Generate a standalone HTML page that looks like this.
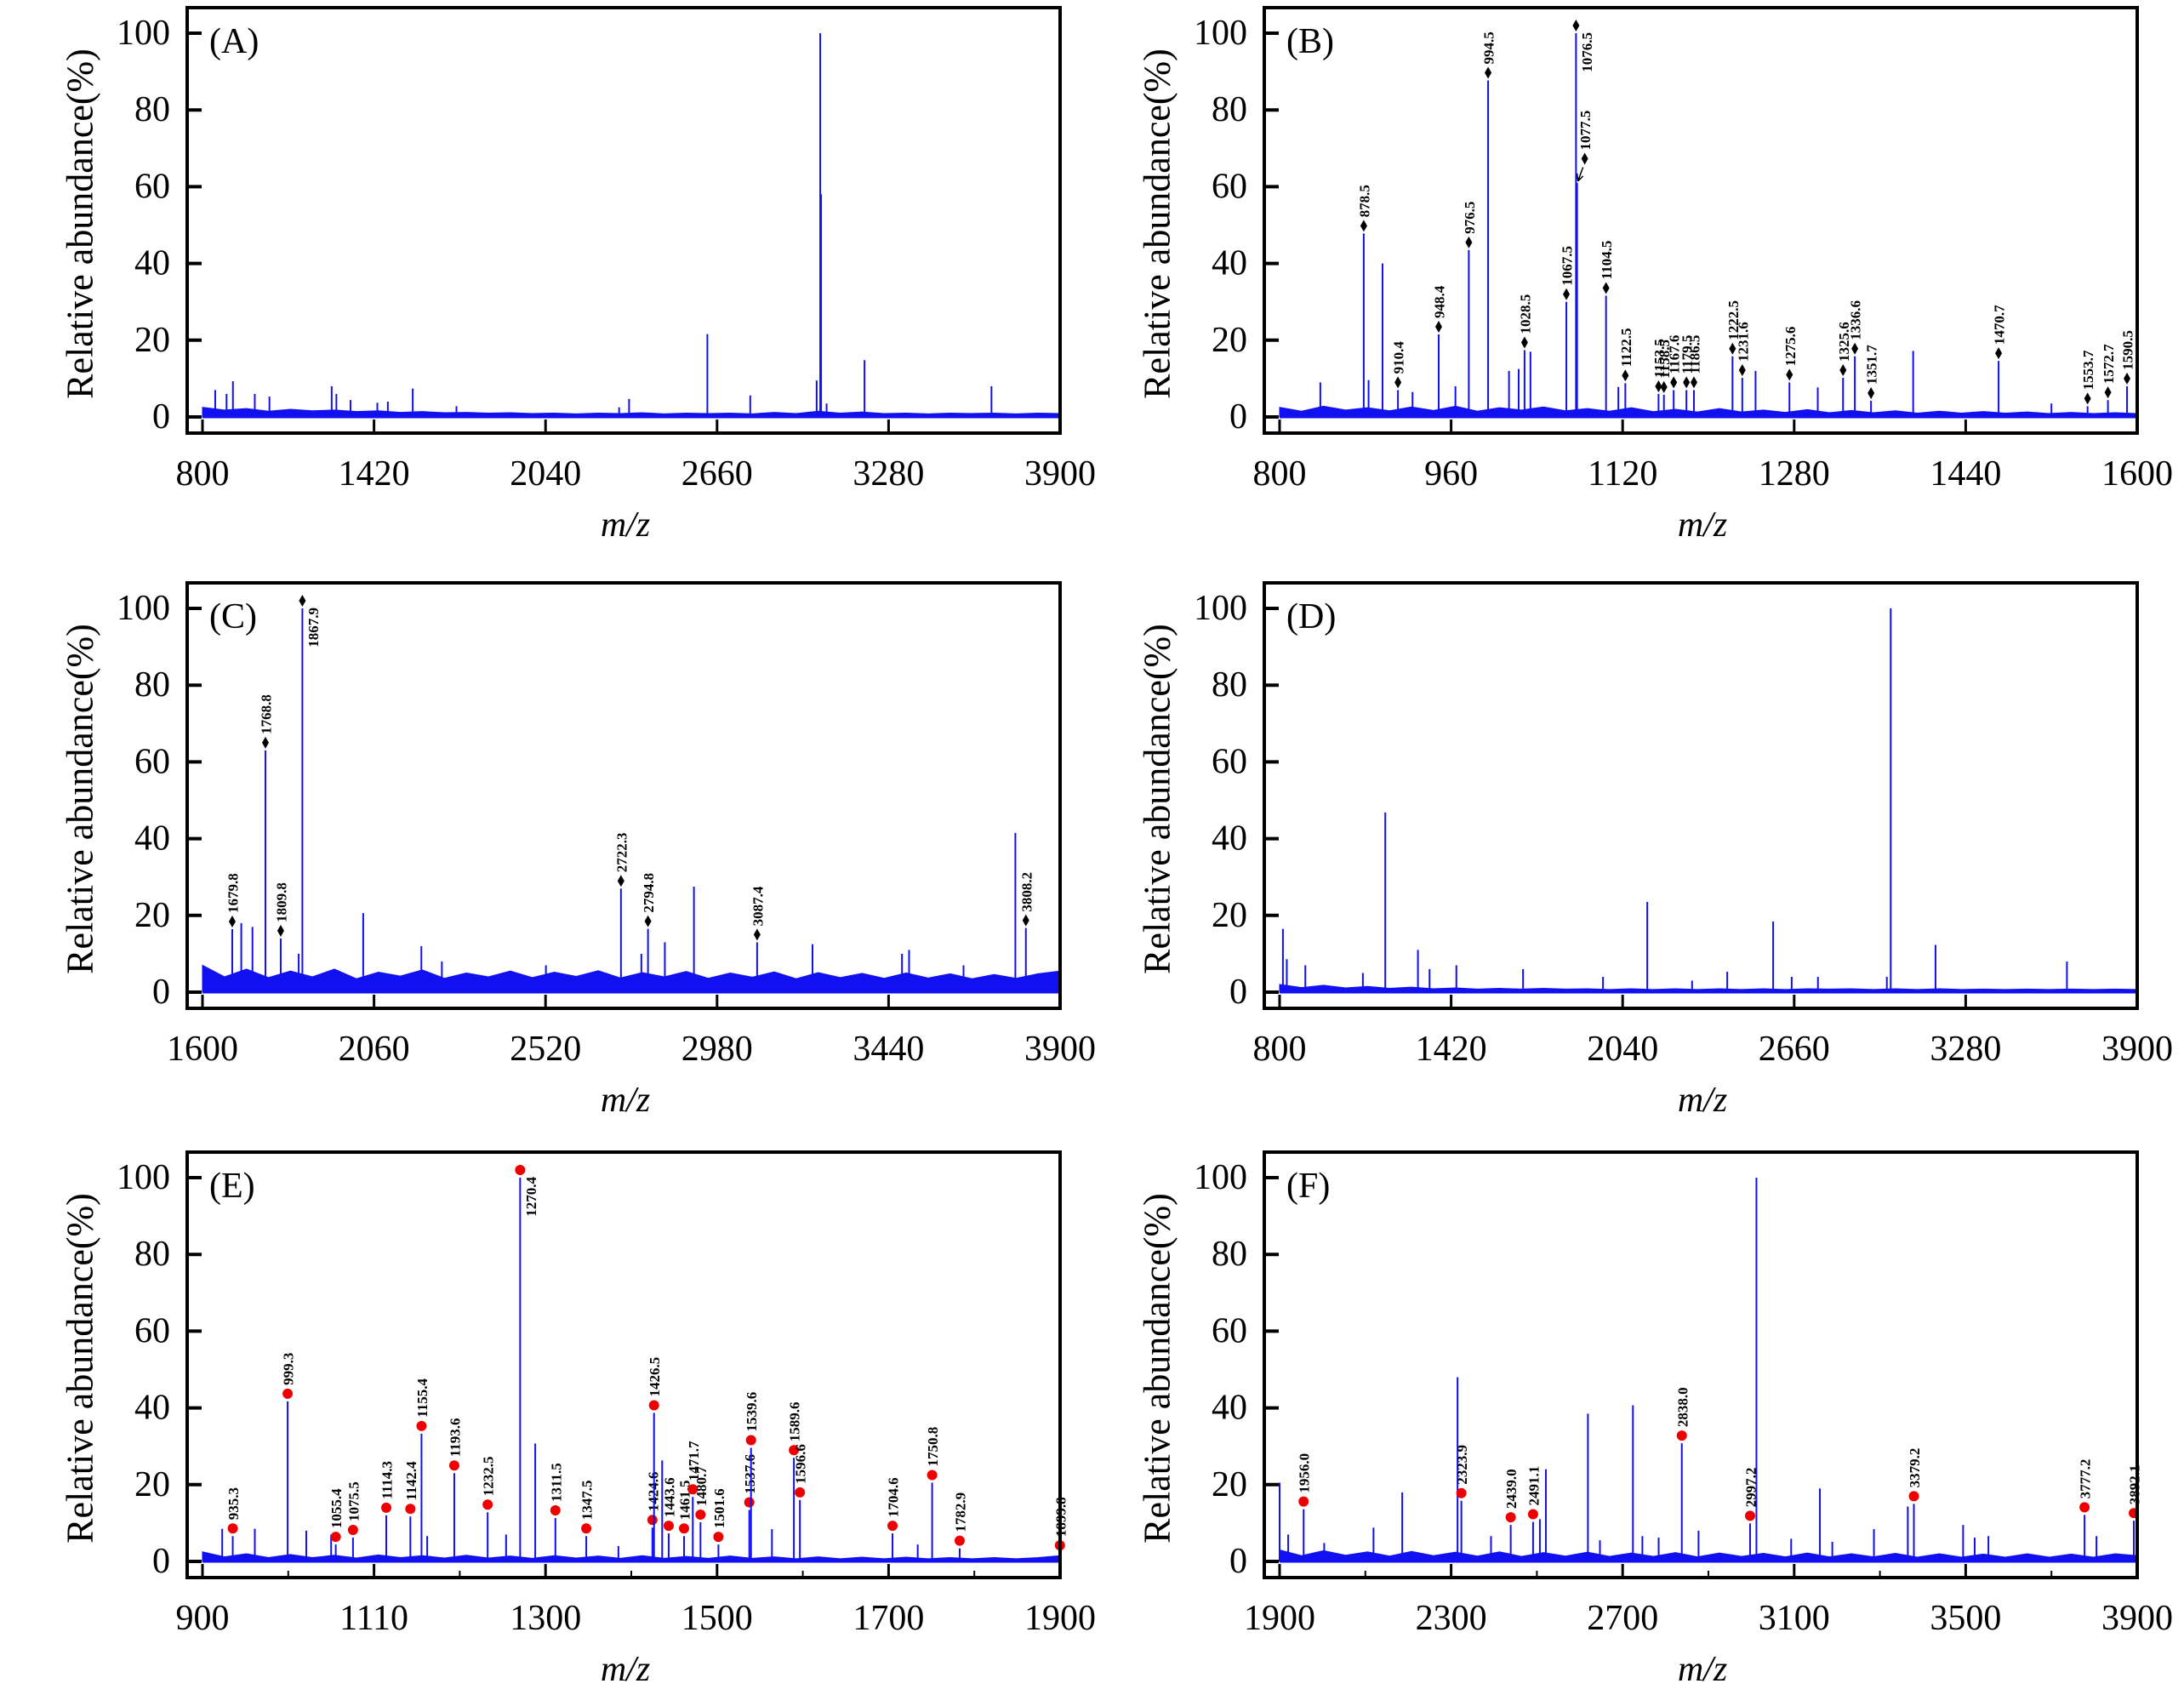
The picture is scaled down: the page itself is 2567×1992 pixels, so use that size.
<!DOCTYPE html>
<html><head><meta charset="utf-8"><title>Mass spectra panels A–F</title>
<style>
html,body{margin:0;padding:0;background:#fff;}
svg{display:block;}
svg text{font-family:"Liberation Serif","DejaVu Serif",serif;fill:#000;}
</style></head>
<body>
<svg id="fig" width="2567" height="1992" viewBox="0 0 2567 1992" xmlns="http://www.w3.org/2000/svg"></svg>
<script>
// ---------- Panel A ----------
const aTicks=[800,1420,2040,2660,3280,3900];
const aMz=[846,887,910,989,1042,1267,1284,1335,1432,1470,1560,1718,2306,2342,2625,2780,3020,3033,3036,3056,3193,3652];
const aInt=[7,6,9.3,6,5.3,8,6,4.4,3.7,4,7.4,2.8,2.5,4.7,21.6,5.6,9.5,100,58,3.5,14.8,8];
const aNoise=[2.5,1.8,2.2,1.5,2,1.6,1.8,1.4,1.6,1.2,1.4,1.1,1.2,1,1.1,0.9,1,0.8,1,0.9,1.1,0.8,1,0.9,1,0.8,1.2,0.9,1.5,1,1.3,0.9,1,0.8,1,0.9,1,0.8,1,0.9];
// ---------- Panel B ----------
const bTicks=[800,960,1120,1280,1440,1600];
const bMz=[838,883,896,924,964,1014,1023,1034,1116,1244,1302,1391,1520];
const bInt=[9,9.6,40,6.5,8,12,12.5,17,7.8,12,7.7,17.2,3.5];
const bLabMz=[878.5,910.4,948.4,976.5,994.5,1028.5,1067.5,1076.5,1104.5,1122.5,1153.5,1158.5,1167.6,1179.5,1186.5,1222.5,1231.6,1275.6,1325.6,1336.6,1351.7,1470.7,1553.7,1572.7,1590.5];
const bLabInt=[47.8,7,21.5,43.5,87.7,17.4,30,100,31.6,8.8,6,5.8,7,7,7,15.8,10.2,9,10.2,15.8,4.2,14.6,2.8,4.4,8];
const bArrowMz=[1077.5];
const bArrowPeak=[61];
const bArrowMarker=[67.3];
const bNoise=[2.5,1.5,2.8,1.8,2.4,1.6,2.6,1.7,2.8,1.5,2.4,1.8,2.6,1.6,2.2,1.5,2.4,1.4,2.0,1.3,2.2,1.3,1.8,1.2,1.9,1.1,1.7,1.1,1.6,1.0,1.5,1.0,1.4,1.0,1.3,0.9,1.2,0.9,1.1,0.9];
// ---------- Panel C ----------
const cTicks=[1600,2060,2520,2980,3440,3900];
const cMz=[1704,1734,1858,2031,2187,2242,2521,2777,2840,2918,3236,3476,3495,3641,3780];
const cInt=[18,17,10,20.6,12,8,7,10,13,27.5,12.5,10,11,7,41.5];
const cLabMz=[1679.8,1768.8,1809.8,1867.9,2722.3,2794.8,3087.4,3808.2];
const cLabInt=[16.4,63,14,100,27,16.5,13,16.7];
const cNoise=[7,4,6,3.8,5.5,4,6,3.5,5.2,4.2,5.8,3.6,5,4,5.5,3.8,5.2,4.1,5.6,3.7,5.1,4,5.4,3.6,5,3.9,5.3,3.5,5.1,3.8,4.9,3.6,5,3.7,4.8,3.5,4.6,3.6,4.8,5.5];
// ---------- Panel D ----------
const dTicks=[800,1420,2040,2660,3280,3900];
const dMz=[812,826,893,1101,1182,1300,1342,1439,1680,1969,2129,2291,2418,2584,2651,2746,2995,3009,3171,3646];
const dInt=[16.5,8.6,7,5,46.8,11,6,7,6,4,23.5,3,5.3,18.4,4,4,4,100,12.3,8];
const dNoise=[2,1.2,1.8,1.1,1.5,1,1.3,0.9,1.1,0.8,1,0.8,1,0.8,0.9,0.7,0.9,0.7,0.9,0.7,0.9,0.7,0.9,0.7,0.9,0.8,0.9,0.7,0.9,0.7,0.9,0.7,0.8,0.7,0.8,0.7,0.8,0.7,0.8,0.7];
// ---------- Panel E ----------
const eTicks=[900,1110,1300,1500,1700,1900];
const eTickPos=[900,1100,1300,1500,1700,1900];
const eMinor=[1000,1200,1400,1600,1800];
const eMz=[923,961,1021,1050,1162,1254,1288,1385,1436,1564,1734];
const eInt=[8.5,8.5,8,7,6.6,7,30.7,4,26.3,8.4,4.4];
const eLabMz=[935.3,999.3,1055.4,1075.5,1114.3,1142.4,1155.4,1193.6,1232.5,1270.4,1311.5,1347.5,1424.6,1426.5,1443.6,1461.5,1471.7,1480.7,1501.6,1537.6,1539.6,1589.6,1596.6,1704.6,1750.8,1782.9,1899.8];
const eLabInt=[6.6,41.7,4.4,6.2,12,11.7,33.3,23,12.8,100,11.3,6.6,8.8,38.7,7.3,6.6,16.8,10.2,4.4,13.4,29.6,27,16,7.3,20.5,3.4,2.2];
const eNoise=[2.5,1.2,2,1,1.8,1,1.6,0.9,1.7,1,1.5,0.9,1.6,0.9,1.4,0.8,1.5,0.9,1.4,0.8,1.5,0.8,1.3,0.8,1.4,0.8,1.2,0.7,1.2,0.7,1.1,0.7,1.1,0.7,1,0.7,1,0.7,1,1.5];
// ---------- Panel F ----------
const fTicks=[1900,2300,2700,3100,3500,3900];
const fMinor=[2100,2500,2900,3300,3700];
const fMz=[1900,1920,2004,2119,2186,2315,2393,2507,2521,2619,2647,2724,2746,2784,2877,3012,3093,3160,3189,3286,3365,3494,3521,3553,3805];
const fInt=[20.5,7,4.8,8.8,18,48,6.6,11,24,38.5,5.5,40.7,6.6,6.2,8,100,5.9,19,5.1,8.4,14.3,9.5,6.2,6.6,6.6];
const fLabMz=[1956.0,2323.9,2439.0,2491.1,2838.0,2997.2,3379.2,3777.2,3892.1];
const fLabInt=[13.6,15.8,9.5,10.3,30.8,9.9,15,12.1,10.6];
const fNoise=[3,1.5,2.8,1.6,2.5,1.4,2.6,1.5,2.4,1.4,2.5,1.3,2.3,1.4,2.4,1.3,2.2,1.3,2.3,1.2,2.2,1.3,2.1,1.2,2.2,1.2,2,1.2,2.1,1.1,2,1.1,1.9,1.1,2,1.1,1.9,1.1,2.0,1.5];
const yTicks=[0,20,40,60,80,100];

const NS='http://www.w3.org/2000/svg';
const svg=document.getElementById('fig');
const BLUE='#1010f0';
const SERIF='"Liberation Serif", "DejaVu Serif", serif';
function mk(tag,attrs,parent){const e=document.createElementNS(NS,tag);for(const k in attrs)e.setAttribute(k,attrs[k]);if(tag==='text'){e.setAttribute('font-family',SERIF);e.style.fontFamily=SERIF;}(parent||svg).appendChild(e);return e;}

function panel(o){
  const W=1026,H=500,L=o.left,T=o.top;
  const x0=L+18,x1=L+W;
  const sx=v=>x0+(v-o.xmin)/(o.xmax-o.xmin)*(x1-x0);
  const sy=v=>T+481-v*4.51;
  const g=mk('g',{});
  
  
  let pts=[[sx(o.xmin),sy(0)]];
  o.noise.forEach((v,i)=>{pts.push([sx(o.xmin+i*(o.xmax-o.xmin)/(o.noise.length-1)),sy(v)]);});
  pts.push([sx(o.xmax),sy(0)]);
  const nb=mk('polygon',{points:pts.map(p=>p.join(',')).join(' '),fill:BLUE,stroke:BLUE,'stroke-width':1},g);
  
  
  const bl=mk('line',{x1:sx(o.xmin),x2:sx(o.xmax),y1:sy(0),y2:sy(0),stroke:BLUE,'stroke-width':3},g);
  
  
  o.mz.forEach((m,i)=>{
    const p=mk('line',{x1:sx(m),x2:sx(m),y1:sy(0),y2:sy(o.int[i]),stroke:BLUE,'stroke-width':2},g);
    
    
  });
  if(o.labMz){
    o.labMz.forEach((m,i)=>{
      const v=o.labInt[i],x=sx(m),yt=sy(v);
      const p=mk('line',{x1:x,x2:x,y1:sy(0),y2:yt,stroke:BLUE,'stroke-width':2},g);
      
      
      const my=yt-9;
      let mkEl;
      if(o.marker==='diamond'){
        mkEl=mk('polygon',{points:`${x},${my-7} ${x+4},${my} ${x},${my+7} ${x-4},${my}`,fill:'#000'},g);
      } else {
        mkEl=mk('circle',{cx:x,cy:my,r:6,fill:'#ee0000'},g);
      }
      
      
      const lbl=m.toFixed(1);
      let t;
      if(v>90){
        t=mk('text',{transform:`translate(${x+13},${my+8}) rotate(-90)`,'text-anchor':'end','dominant-baseline':'central','font-size':17,'font-weight':'bold'},g);
      } else {
        t=mk('text',{transform:`translate(${x+1},${my-10}) rotate(-90)`,'text-anchor':'start','dominant-baseline':'central','font-size':17,'font-weight':'bold'},g);
      }
      t.textContent=lbl;
      
      
    });
  }
  if(o.arrowMz){
    o.arrowMz.forEach((m,i)=>{
      const x=sx(m),ym=sy(o.arrowMarker[i]),ytip=sy(o.arrowPeak[i]);
      const p=mk('line',{x1:x,x2:x,y1:sy(0),y2:ytip,stroke:BLUE,'stroke-width':2},g);
      
      
      const d=mk('polygon',{points:`${x+9},${ym-7} ${x+13},${ym} ${x+9},${ym+7} ${x+5},${ym}`,fill:'#000'},g);
      
      
      const a=mk('path',{d:`M${x+7},${ym+10} L${x+1},${ytip-2} M${x+1},${ytip-2} l-1,-9 M${x+1},${ytip-2} l6,-6`,stroke:'#000','stroke-width':1.5,fill:'none'},g);
      
      
      const t=mk('text',{transform:`translate(${x+10},${ym-10}) rotate(-90)`,'text-anchor':'start','dominant-baseline':'central','font-size':17,'font-weight':'bold'},g);
      t.textContent=m.toFixed(1);
      
      
    });
  }
  const fr=mk('rect',{x:L,y:T,width:W,height:H,fill:'none',stroke:'#000','stroke-width':4},g);
  
  
  yTicks.forEach(v=>{
    const tk=mk('line',{x1:L,x2:L+17,y1:sy(v),y2:sy(v),stroke:'#000','stroke-width':4},g);
    
    
    const t=mk('text',{x:L-20,y:sy(v),'text-anchor':'end','dominant-baseline':'central','font-size':42},g);
    t.textContent=v;
    
    
  });
  o.ticks.forEach((v,i)=>{
    const pos=o.tickPos?o.tickPos[i]:v;
    const x=sx(pos);
    const tk=mk('line',{x1:x,x2:x,y1:T+H,y2:T+H-16,stroke:'#000','stroke-width':3},g);
    
    
    const t=mk('text',{x:x,y:T+548,'text-anchor':'middle','dominant-baseline':'central','font-size':42},g);
    t.textContent=v;
    
    
  });
  (o.minor||[]).forEach(v=>{
    const tk=mk('line',{x1:sx(v),x2:sx(v),y1:T+H,y2:T+H-8,stroke:'#000','stroke-width':2},g);
    
    
  });
  const yt=mk('text',{transform:`translate(${L-126},${T+254}) rotate(-90)`,'text-anchor':'middle','dominant-baseline':'central','font-size':44},g);
  yt.textContent='Relative abundance(%)';
  
  
  const xt=mk('text',{x:L+W/2+2,y:T+608,'text-anchor':'middle','dominant-baseline':'central','font-size':42,'font-style':'italic'},g);
  xt.textContent='m/z';
  
  
  const pl=mk('text',{x:L+26,y:T+53,'font-size':42},g);
  pl.textContent='('+o.id+')';
  
  
}

panel({id:'A',left:220,top:9,xmin:800,xmax:3900,ticks:aTicks,mz:aMz,int:aInt,noise:aNoise});
panel({id:'B',left:1486,top:9,xmin:800,xmax:1600,ticks:bTicks,mz:bMz,int:bInt,noise:bNoise,labMz:bLabMz,labInt:bLabInt,marker:'diamond',arrowMz:bArrowMz,arrowPeak:bArrowPeak,arrowMarker:bArrowMarker});
panel({id:'C',left:220,top:685,xmin:1600,xmax:3900,ticks:cTicks,mz:cMz,int:cInt,noise:cNoise,labMz:cLabMz,labInt:cLabInt,marker:'diamond'});
panel({id:'D',left:1486,top:685,xmin:800,xmax:3900,ticks:dTicks,mz:dMz,int:dInt,noise:dNoise});
panel({id:'E',left:220,top:1354,xmin:900,xmax:1900,ticks:eTicks,tickPos:eTickPos,minor:eMinor,mz:eMz,int:eInt,noise:eNoise,labMz:eLabMz,labInt:eLabInt,marker:'circle'});
panel({id:'F',left:1486,top:1354,xmin:1900,xmax:3900,ticks:fTicks,minor:fMinor,mz:fMz,int:fInt,noise:fNoise,labMz:fLabMz,labInt:fLabInt,marker:'circle'});
</script>
</body></html>
